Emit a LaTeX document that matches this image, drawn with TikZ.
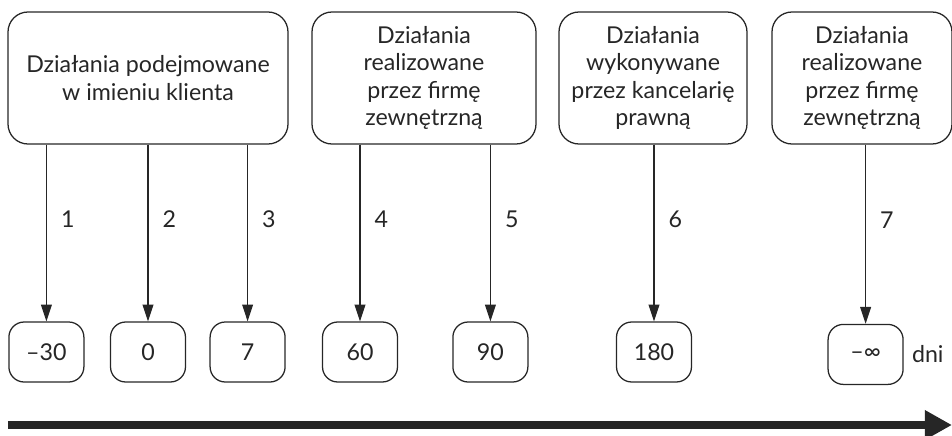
\documentclass[tikz,border=0pt]{standalone}
\usepackage{fontspec}
\setmainfont{Lato}
\usepackage{tikz}
\usetikzlibrary{arrows.meta,positioning}
\definecolor{ink}{HTML}{262626}

\begin{document}
\begin{tikzpicture}[
  actor/.style={
    draw=ink,
    line width=0.9pt,
    rounded corners=0.5cm,
    align=center,
    text=ink,
    minimum height=3.3cm,
    font=\fontsize{16.5}{19.6}\selectfont
  },
  daybox/.style={
    draw=ink,
    line width=0.9pt,
    rounded corners=0.38cm,
    text=ink,
    minimum width=1.875cm,
    minimum height=1.5cm,
    font=\fontsize{16.5}{19.6}\selectfont
  },
  link/.style={
    -{Triangle[length=4.2mm,width=2.7mm]},
    draw=ink,
    line width=0.9pt
  },
  step label/.style={
    text=ink,
    inner sep=0pt,
    font=\fontsize{16.5}{19.6}\selectfont
  },
  timeline/.style={
    -{Triangle[length=6.8mm,width=7mm]},
    draw=ink,
    line width=0.2cm
  }
]
\useasboundingbox (0,0) rectangle (23.8,-10.875);

% Who carries out the actions
\node[actor,minimum width=7cm] (client) at (3.7,-1.95)
  {Działania podejmowane\\ w imieniu klienta};
\node[actor,minimum width=5.6cm] (firmA) at (10.6,-1.95)
  {Działania\\ realizowane\\ przez firmę\\ zewnętrzną};
\node[actor,minimum width=4.7cm] (law) at (16.325,-1.95)
  {Działania\\ wykonywane\\ przez kancelarię\\ prawną};
\node[actor,minimum width=4.5cm] (firmB) at (21.55,-1.95)
  {Działania\\ realizowane\\ przez firmę\\ zewnętrzną};

% Day markers
\node[daybox] (d1) at (1.16,-8.8) {–30};
\node[daybox] (d2) at (3.7,-8.8) {0};
\node[daybox] (d3) at (6.19,-8.8) {7};
\node[daybox] (d4) at (9.0,-8.8) {60};
\node[daybox] (d5) at (12.26,-8.8) {90};
\node[daybox] (d6) at (16.35,-8.8) {180};
\node[daybox] (d7) at (21.64,-8.86) {–∞};
\node[step label,right=0.2cm of d7] (days) {dni};

% Numbered steps
\draw[link] (client.south -| d1.north) -- node[step label,pos=0.42,right=0.35cm] {1} (d1.north);
\draw[link] (client.south -| d2.north) -- node[step label,pos=0.42,right=0.35cm] {2} (d2.north);
\draw[link] (client.south -| d3.north) -- node[step label,pos=0.42,right=0.35cm] {3} (d3.north);
\draw[link] (firmA.south -| d4.north) -- node[step label,pos=0.42,right=0.35cm] {4} (d4.north);
\draw[link] (firmA.south -| d5.north) -- node[step label,pos=0.42,right=0.35cm] {5} (d5.north);
\draw[link] (law.south -| d6.north) -- node[step label,pos=0.42,right=0.35cm] {6} (d6.north);
\draw[link] (firmB.south -| d7.north) -- node[step label,pos=0.42,right=0.35cm] {7} (d7.north);

% Time axis
\coordinate (t0) at (0.2,-10.625);
\coordinate (t1) at (23.8,-10.625);
\draw[timeline] (t0) -- (t1);
\end{tikzpicture}
\end{document}
